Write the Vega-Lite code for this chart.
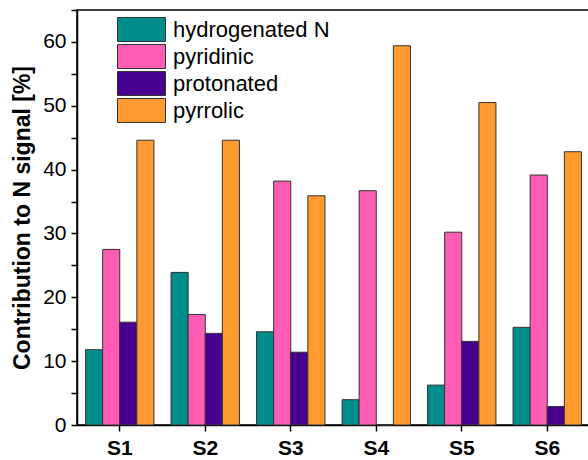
{
  "$schema": "https://vega.github.io/schema/vega-lite/v6.json",
  "autosize": "none",
  "padding": {"left": 77, "top": 10, "right": 0, "bottom": 35},
  "width": 513,
  "height": 415,
  "background": "white",
  "config": {
    "view": {"stroke": "black", "strokeWidth": 1.5},
    "font": "Liberation Sans"
  },
  "data": {
    "values": [
      {"sample": "S1", "type": "hydrogenated N", "value": 11.8},
      {"sample": "S1", "type": "pyridinic", "value": 27.5},
      {"sample": "S1", "type": "protonated", "value": 16.1},
      {"sample": "S1", "type": "pyrrolic", "value": 44.6},
      {"sample": "S2", "type": "hydrogenated N", "value": 23.9},
      {"sample": "S2", "type": "pyridinic", "value": 17.3},
      {"sample": "S2", "type": "protonated", "value": 14.35},
      {"sample": "S2", "type": "pyrrolic", "value": 44.6},
      {"sample": "S3", "type": "hydrogenated N", "value": 14.6},
      {"sample": "S3", "type": "pyridinic", "value": 38.2},
      {"sample": "S3", "type": "protonated", "value": 11.4},
      {"sample": "S3", "type": "pyrrolic", "value": 35.9},
      {"sample": "S4", "type": "hydrogenated N", "value": 3.96},
      {"sample": "S4", "type": "pyridinic", "value": 36.7},
      {"sample": "S4", "type": "protonated", "value": 0},
      {"sample": "S4", "type": "pyrrolic", "value": 59.4},
      {"sample": "S5", "type": "hydrogenated N", "value": 6.25},
      {"sample": "S5", "type": "pyridinic", "value": 30.2},
      {"sample": "S5", "type": "protonated", "value": 13.1},
      {"sample": "S5", "type": "pyrrolic", "value": 50.5},
      {"sample": "S6", "type": "hydrogenated N", "value": 15.3},
      {"sample": "S6", "type": "pyridinic", "value": 39.15},
      {"sample": "S6", "type": "protonated", "value": 2.9},
      {"sample": "S6", "type": "pyrrolic", "value": 42.8}
    ]
  },
  "mark": {"type": "bar", "stroke": "#333333", "strokeWidth": 1},
  "encoding": {
    "x": {
      "field": "sample",
      "type": "nominal",
      "scale": {"paddingInner": 0.2, "paddingOuter": 0.1},
      "axis": {
        "title": null,
        "labelAngle": 0,
        "labelFontSize": 21,
        "labelFontWeight": "bold",
        "labelColor": "black",
        "labelPadding": 6,
        "tickSize": 6,
        "tickColor": "black",
        "tickWidth": 1.5,
        "domainColor": "black",
        "domainWidth": 1.5
      }
    },
    "xOffset": {
      "field": "type",
      "type": "nominal",
      "sort": ["hydrogenated N", "pyridinic", "protonated", "pyrrolic"]
    },
    "y": {
      "field": "value",
      "type": "quantitative",
      "scale": {"domain": [0, 65], "nice": false},
      "axis": {
        "title": "Contribution to N signal [%]",
        "titleFontSize": 23,
        "titleFontWeight": "bold",
        "titleColor": "black",
        "titlePadding": 8,
        "values": [0, 5, 10, 15, 20, 25, 30, 35, 40, 45, 50, 55, 60, 65],
        "labelExpr": "datum.value % 10 === 0 ? datum.label : ''",
        "labelFontSize": 21,
        "labelColor": "black",
        "labelPadding": 5,
        "tickSize": 6,
        "tickColor": "black",
        "tickWidth": 1.5,
        "domainColor": "black",
        "domainWidth": 1.5,
        "grid": false
      }
    },
    "color": {
      "field": "type",
      "type": "nominal",
      "scale": {
        "domain": ["hydrogenated N", "pyridinic", "protonated", "pyrrolic"],
        "range": ["#008c8a", "#ff5cb5", "#48008f", "#ff9a30"]
      },
      "legend": {
        "title": null,
        "orient": "none",
        "legendX": 52,
        "legendY": 7,
        "padding": 0,
        "symbolType": "M-2,-1H2V1H-2Z",
        "symbolSize": 576,
        "symbolStrokeColor": "#333333",
        "symbolStrokeWidth": 1,
        "symbolOpacity": 1,
        "labelFontSize": 22,
        "labelColor": "black",
        "labelOffset": 19,
        "rowPadding": -2,
        "labelLimit": 300
      }
    }
  }
}
